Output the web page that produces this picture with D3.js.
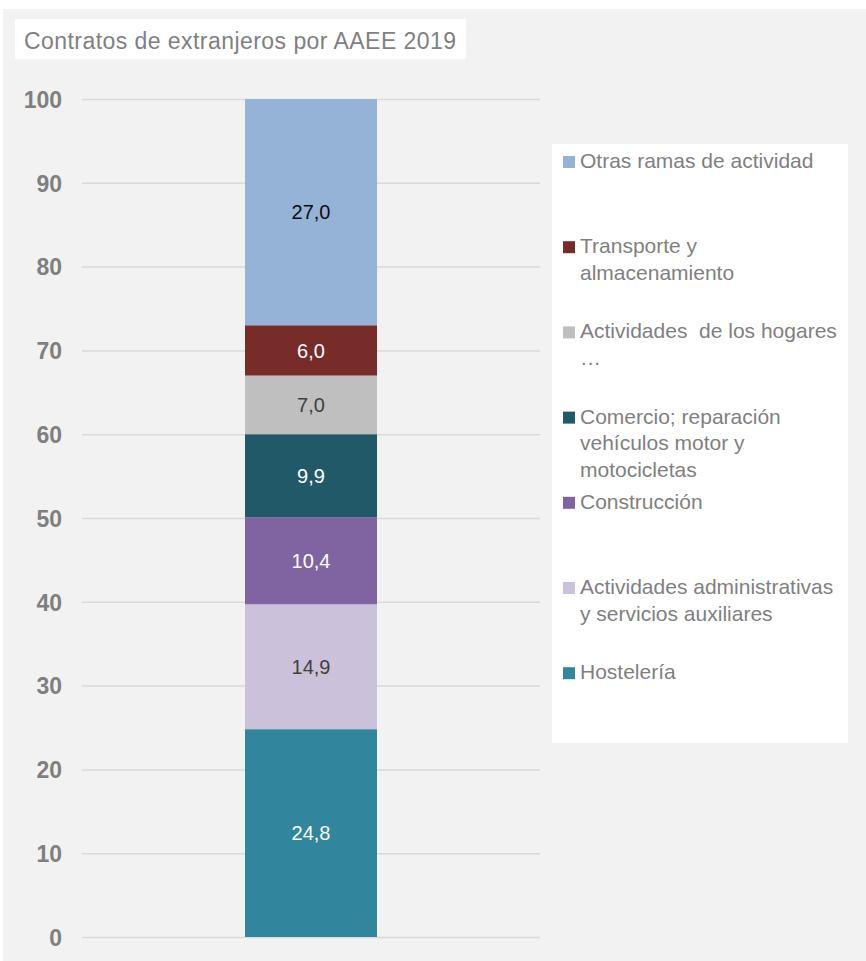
<!DOCTYPE html>
<html>
<head>
<meta charset="utf-8">
<script src="https://cdn.jsdelivr.net/npm/d3@7"></script>
<style>
  html, body { margin: 0; padding: 0; background: #ffffff; }
  svg { display: block; font-family: "Liberation Sans", Arial, sans-serif; }
</style>
</head>
<body>
<svg id="chart" width="866" height="961"></svg>
<script>
// ---- Data ----
const title = "Contratos de extranjeros por AAEE 2019";
const series = ["Hostelería", "Actividades administrativas y servicios auxiliares", "Construcción",
  "Comercio; reparación vehículos motor y motocicletas", "Actividades de los hogares …",
  "Transporte y almacenamiento", "Otras ramas de actividad"];
const legendLines = [["Hostelería"], ["Actividades administrativas", "y servicios auxiliares"], ["Construcción"],
  ["Comercio; reparación", "vehículos motor y", "motocicletas"], ["Actividades  de los hogares", "…"],
  ["Transporte y", "almacenamiento"], ["Otras ramas de actividad"]];
const values = [24.8, 14.9, 10.4, 9.9, 7.0, 6.0, 27.0];
const valueLabels = ["24,8", "14,9", "10,4", "9,9", "7,0", "6,0", "27,0"];
const colors = ["#31859c", "#ccc1da", "#8064a2", "#215968", "#bfbfbf", "#772c2a", "#95b3d7"];
const labelColors = ["#ffffff", "#404040", "#ffffff", "#ffffff", "#404040", "#ffffff", "#0d0d0d"];
const yTicks = [0, 10, 20, 30, 40, 50, 60, 70, 80, 90, 100];
const category = ["2019"];

// ---- Layout ----
const svg = d3.select("#chart");
const textGray = "#7f7f7f";

svg.append("rect").attr("x", 3).attr("y", 9).attr("width", 863).attr("height", 952).attr("fill", "#f2f2f2");

// title
svg.append("rect").attr("x", 15).attr("y", 19).attr("width", 451).attr("height", 40).attr("fill", "#ffffff");
svg.append("text").attr("x", 24).attr("y", 49).attr("font-size", 23).attr("fill", textGray)
  .attr("textLength", 432).attr("lengthAdjust", "spacing").text(title);

const y = d3.scaleLinear().domain([0, 100]).range([937, 99]);
const x = d3.scaleBand().domain(category).range([245, 377]).padding(0);

// gridlines
const yAxis = d3.axisLeft(y).tickValues(yTicks).tickSize(-(540 - 82)).tickPadding(20).tickFormat(d3.format("d"));
const gAxis = svg.append("g").attr("transform", "translate(82,0)").call(yAxis);
gAxis.select(".domain").remove();
gAxis.selectAll(".tick line").attr("stroke", "#d9d9d9").attr("stroke-width", 1.5);
gAxis.selectAll(".tick text").attr("font-size", 23).attr("font-weight", "bold").attr("fill", textGray)
  .attr("font-family", "'Liberation Sans', Arial, sans-serif").attr("x", -20).attr("dy", "0.36em");

// stacked segments
const stackData = [Object.fromEntries(series.map((s, i) => [s, values[i]]))];
const stacked = d3.stack().keys(series)(stackData);

const segs = svg.append("g").selectAll("g").data(stacked).join("g");
segs.append("rect")
  .attr("x", x("2019"))
  .attr("width", x.bandwidth())
  .attr("y", d => y(d[0][1]))
  .attr("height", d => y(d[0][0]) - y(d[0][1]))
  .attr("fill", (d, i) => colors[i]);
segs.append("text")
  .attr("x", x("2019") + x.bandwidth() / 2)
  .attr("y", d => (y(d[0][0]) + y(d[0][1])) / 2)
  .attr("dy", "0.36em")
  .attr("text-anchor", "middle")
  .attr("font-size", 20)
  .attr("fill", (d, i) => labelColors[i])
  .text((d, i) => valueLabels[i]);

// legend
svg.append("rect").attr("x", 552).attr("y", 144).attr("width", 296).attr("height", 599).attr("fill", "#ffffff");
const order = d3.range(series.length).reverse();
const slot = 85.2, firstBase = 168, lineH = 26.5;
order.forEach((idx, k) => {
  const base = firstBase + k * slot;
  svg.append("rect").attr("x", 563).attr("y", base - 12).attr("width", 12).attr("height", 12).attr("fill", colors[idx]);
  const t = svg.append("text").attr("x", 580).attr("y", base).attr("font-size", 21).attr("fill", textGray)
    .attr("xml:space", "preserve").style("white-space", "pre");
  legendLines[idx].forEach((ln, j) => {
    t.append("tspan").attr("x", 580).attr("y", base + j * lineH).text(ln);
  });
});
</script>
</body>
</html>
